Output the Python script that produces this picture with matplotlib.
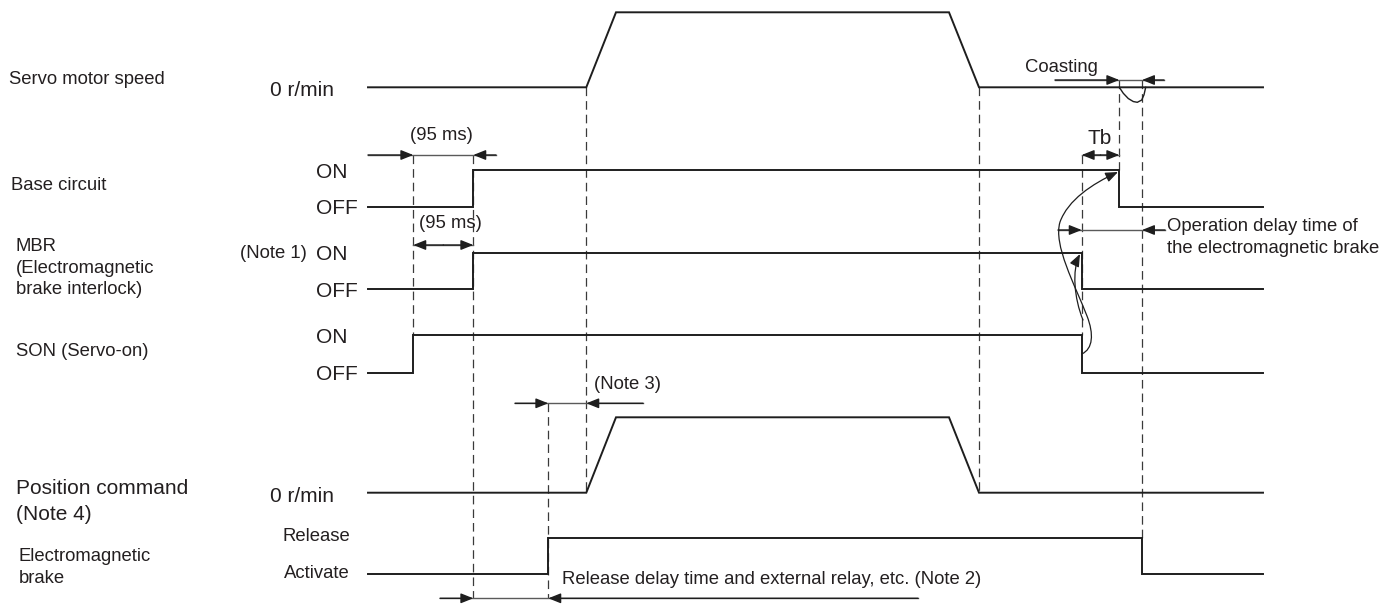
import matplotlib
matplotlib.use('Agg')
import matplotlib.pyplot as plt
from matplotlib.path import Path
from matplotlib.patches import FancyArrowPatch

plt.rcParams['font.family'] = ['Liberation Sans', 'DejaVu Sans']
plt.rcParams['lines.scale_dashes'] = False

# event times (horizontal position along the time axis)
t_begin = 368
t_son_on = 413.3
t_base_on = 473.3
t_brake_release = 548.3
t_cmd_start = 586.3
t_accel_end = 616
t_decel_start = 949
t_stop = 979
t_son_off = 1081.7
t_base_off = 1119.3
t_brake_act = 1142
t_end = 1263

# waveforms: (times, levels) with level 0 = OFF / 0 r/min, 1 = ON / running
speed_t = [t_begin, t_cmd_start, t_accel_end, t_decel_start, t_stop, t_end]
speed_v = [0, 0, 1, 1, 0, 0]
coast_t = [1119.3, 1123.3, 1128.3, 1133.3, 1137.3, 1141.7, 1144, 1145.7]
coast_v = [0, -0.08, -0.15, -0.19, -0.2, -0.17, -0.1, 0]
base_t = [t_begin, t_base_on, t_base_on, t_base_off, t_base_off, t_end]
base_v = [0, 0, 1, 1, 0, 0]
mbr_t = [t_begin, t_base_on, t_base_on, t_son_off, t_son_off, t_end]
mbr_v = [0, 0, 1, 1, 0, 0]
son_t = [t_begin, t_son_on, t_son_on, t_son_off, t_son_off, t_end]
son_v = [0, 0, 1, 1, 0, 0]
cmd_t = [t_begin, t_cmd_start, t_accel_end, t_decel_start, t_stop, t_end]
cmd_v = [0, 0, 1, 1, 0, 0]
brake_t = [t_begin, t_brake_release, t_brake_release, t_brake_act, t_brake_act, t_end]
brake_v = [0, 0, 1, 1, 0, 0]

# row layout: (baseline y, amplitude)
rows = {
    'speed': (87.3, 75),
    'base': (207.3, 37.3),
    'mbr': (289.3, 36.6),
    'son': (372.7, 37.7),
    'cmd': (492.7, 75.4),
    'brake': (574.3, 36.6),
}

fig = plt.figure(figsize=(13.97, 6.05), dpi=100)
ax = fig.add_axes([0, 0, 1, 1])
ax.set_xlim(0, 1397)
ax.set_ylim(605, 0)
ax.axis('off')

LINE = '#1e1e1e'
GRAY = '#5a5a5a'
TXT = '#231f20'
FS = 13.3
FL = 15


def wave(t, v, row, lw=1.4):
    y0, a = rows[row]
    ax.plot(t, [y0 - a * k for k in v], color=LINE, lw=lw, solid_joinstyle='miter', zorder=3)


wave(speed_t, speed_v, 'speed')
wave(coast_t, coast_v, 'speed', lw=1.0)
wave(base_t, base_v, 'base')
wave(mbr_t, mbr_v, 'mbr')
wave(son_t, son_v, 'son')
wave(cmd_t, cmd_v, 'cmd')
wave(brake_t, brake_v, 'brake')

# dashed guide lines
guides = [
    (t_son_on, 155, 335),
    (t_base_on, 155, 598),
    (t_brake_release, 403, 598),
    (t_cmd_start, 87.3, 492.7),
    (t_stop, 87.3, 492.7),
    (t_son_off, 155, 335),
    (t_base_off, 80, 170),
    (t_brake_act, 80, 537.7),
]
for x, ya, yb in guides:
    ax.plot([x, x], [ya, yb], color='#3a3a3a', lw=0.9, linestyle=(0, (6.2, 3.6)), zorder=2)

ARW = dict(arrowstyle='-|>,head_length=0.75,head_width=0.3', mutation_scale=10,
           shrinkA=0, shrinkB=0)


def head(tip, start, color=LINE, lw=1.0):
    ax.annotate('', xy=tip, xytext=start,
                arrowprops=dict(color=color, lw=lw, **ARW), zorder=4)


def outside_in(y, x0, tip_l, tip_r, x1):
    ax.plot([x0, x1], [y, y], color=GRAY, lw=1.0, zorder=3)
    head((tip_l, y), (x0, y), color=LINE)
    head((tip_r, y), (x1, y), color=LINE)


def both_ways(y, xa, xb):
    mid = (xa + xb) / 2
    ax.plot([xa, xb], [y, y], color=GRAY, lw=1.0, zorder=3)
    head((xa, y), (mid, y))
    head((xb, y), (mid, y))


outside_in(155, 368, t_son_on, t_base_on, 496)
both_ways(245, t_son_on, t_base_on)
outside_in(403.3, 515, t_brake_release, t_cmd_start, 643)
outside_in(598.3, 440, t_base_on, t_brake_release, 918)
outside_in(80, 1055, t_base_off, t_brake_act, 1164)
both_ways(155, t_son_off, t_base_off)
outside_in(230, 1058, t_son_off, t_brake_act, 1165)

# curved arrows from SON off to MBR / base circuit off
long_path = Path(
    [(1081.7, 354), (1093, 349), (1094, 334), (1087, 316),
     (1075, 285), (1053, 245), (1060, 222),
     (1068, 200), (1092, 184), (1118, 172)],
    [Path.MOVETO] + [Path.CURVE4] * 9)
short_path = Path(
    [(1083, 320), (1074, 298), (1072, 270), (1080, 254)],
    [Path.MOVETO] + [Path.CURVE4] * 3)
for p in (long_path, short_path):
    ax.add_patch(FancyArrowPatch(path=p, color=LINE, lw=0.9, zorder=4, **ARW))

# labels
kw = dict(color=TXT, va='center')
ax.text(9, 80, 'Servo motor speed', fontsize=FS, ha='left', **kw)
ax.text(334, 90, '0 r/min', fontsize=FL, ha='right', **kw)
ax.text(441.7, 135, '(95 ms)', fontsize=FS, ha='center', **kw)
ax.text(11, 186, 'Base circuit', fontsize=FS, ha='left', **kw)
ax.text(316, 172.7, 'ON', fontsize=FL, ha='left', **kw)
ax.text(316, 209, 'OFF', fontsize=FL, ha='left', **kw)
ax.text(450, 224, '(95 ms)', fontsize=FS, ha='center', **kw)
ax.text(15.6, 246.7, 'MBR', fontsize=FS, ha='left', **kw)
ax.text(15.6, 268.3, '(Electromagnetic', fontsize=FS, ha='left', **kw)
ax.text(15.6, 290, 'brake interlock)', fontsize=FS, ha='left', **kw)
ax.text(307, 254, '(Note 1)', fontsize=FS, ha='right', **kw)
ax.text(316, 255, 'ON', fontsize=FL, ha='left', **kw)
ax.text(316, 291.7, 'OFF', fontsize=FL, ha='left', **kw)
ax.text(15.6, 351.7, 'SON (Servo-on)', fontsize=FS, ha='left', **kw)
ax.text(316, 337.7, 'ON', fontsize=FL, ha='left', **kw)
ax.text(316, 375, 'OFF', fontsize=FL, ha='left', **kw)
ax.text(594, 384.3, '(Note 3)', fontsize=FS, ha='left', **kw)
ax.text(15.6, 488.3, 'Position command', fontsize=FL, ha='left', **kw)
ax.text(15.6, 514.3, '(Note 4)', fontsize=FL, ha='left', **kw)
ax.text(334, 496, '0 r/min', fontsize=FL, ha='right', **kw)
ax.text(282.6, 536.7, 'Release', fontsize=FS, ha='left', **kw)
ax.text(284, 574, 'Activate', fontsize=FS, ha='left', **kw)
ax.text(18.7, 556.7, 'Electromagnetic', fontsize=FS, ha='left', **kw)
ax.text(18.7, 578.3, 'brake', fontsize=FS, ha='left', **kw)
ax.text(561.6, 580, 'Release delay time and external relay, etc. (Note 2)',
        fontsize=FS, ha='left', **kw)
ax.text(1025, 68, 'Coasting', fontsize=FS, ha='left', **kw)
ax.text(1100, 138, 'Tb', fontsize=FL, ha='center', **kw)
ax.text(1167, 226.7, 'Operation delay time of', fontsize=FS, ha='left', **kw)
ax.text(1167, 248.3, 'the electromagnetic brake', fontsize=FS, ha='left', **kw)

fig.savefig('out.png', dpi=100)
plt.close(fig)
